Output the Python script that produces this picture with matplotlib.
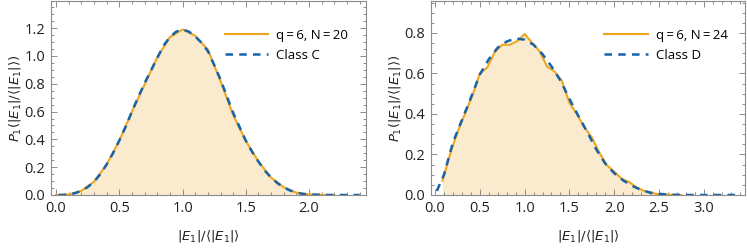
import numpy as np
import matplotlib.pyplot as plt
from matplotlib.ticker import MultipleLocator

plt.rcParams['font.family'] = ['Open Sans', 'DejaVu Sans']
plt.rcParams['mathtext.fontset'] = 'dejavusans'

# left panel: q=6, N=20 vs class C
x_c = np.arange(0, 49) * 0.05
class_c = [0.000, 0.000, 0.004, 0.013, 0.030, 0.057, 0.095, 0.150, 0.220, 0.300,
           0.392, 0.490, 0.600, 0.705, 0.805, 0.895, 0.985, 1.075, 1.135, 1.175,
           1.190, 1.175, 1.140, 1.095, 1.035, 0.935, 0.830, 0.710, 0.590, 0.490,
           0.390, 0.310, 0.240, 0.175, 0.125, 0.085, 0.055, 0.032, 0.017, 0.008,
           0.004, 0.002, 0.001, 0.000, 0.000, 0.000, 0.000, 0.000, 0.000]
x_c[0] = 0.02
x_n20 = np.arange(0, 23) * 0.1
q6_n20 = [0.0, 0.004, 0.030, 0.095, 0.220, 0.390, 0.600, 0.795, 0.990, 1.135,
          1.190, 1.145, 1.045, 0.820, 0.575, 0.390, 0.240, 0.125, 0.055, 0.017,
          0.004, 0.001, 0.0]

# right panel: q=6, N=24 vs class D
x_d = [0.02, 0.1, 0.2, 0.3, 0.4, 0.5, 0.6, 0.7, 0.8, 0.9, 1.0, 1.1, 1.2, 1.3,
       1.4, 1.5, 1.6, 1.7, 1.8, 1.9, 2.0, 2.1, 2.2, 2.3, 2.4, 2.5, 2.6, 2.7,
       2.8, 3.0, 3.2, 3.37]
class_d = [0.02, 0.10, 0.26, 0.37, 0.48, 0.595, 0.67, 0.728, 0.758, 0.773,
           0.767, 0.742, 0.695, 0.635, 0.565, 0.475, 0.39, 0.31, 0.225, 0.155,
           0.108, 0.072, 0.045, 0.025, 0.012, 0.006, 0.002, 0.0005, 0.0, 0.0,
           0.0, 0.0]
x_n24 = np.arange(1, 34) / 12
q6_n24 = [0.07, 0.20, 0.31, 0.40, 0.49, 0.60, 0.63, 0.705, 0.742, 0.742,
          0.76, 0.795, 0.752, 0.71, 0.635, 0.61, 0.563, 0.455, 0.40, 0.335,
          0.285, 0.21, 0.148, 0.115, 0.08, 0.064, 0.038, 0.02, 0.01, 0.004,
          0.002, 0.001, 0.0]

orange = '#EDA620'
blue = '#1763AA'
frame = '#8c8c8c'

fig = plt.figure(figsize=(7.47, 2.48), dpi=100)
ax1 = fig.add_axes([51/747, 1 - 195/248, 315/747, 194/248])
ax2 = fig.add_axes([431/747, 1 - 195/248, 314/747, 194/248])

panels = [
    (ax1, x_n20, q6_n20, x_c, class_c, 'q\u2009=\u20096, N\u2009=\u200920', 'Class C',
     (-0.04, 2.45), (0, 1.395)),
    (ax2, x_n24, q6_n24, x_d, class_d, 'q\u2009=\u20096, N\u2009=\u200924', 'Class D',
     (-0.045, 3.46), (0, 0.958)),
]

for ax, xs, ys, xt, yt, lab1, lab2, xl, yl in panels:
    ax.fill_between(xs, 0, ys, color=orange, alpha=0.22, lw=0)
    ax.plot(xs, ys, color=orange, lw=1.5, label=lab1)
    ax.plot(xt, yt, color=blue, lw=1.8, dashes=(3.0, 2.5), label=lab2)
    ax.set_xlim(*xl)
    ax.set_ylim(*yl)
    ax.xaxis.set_major_locator(MultipleLocator(0.5))
    ax.xaxis.set_minor_locator(MultipleLocator(0.1))
    ax.yaxis.set_major_locator(MultipleLocator(0.2))
    ax.yaxis.set_minor_locator(MultipleLocator(0.05))
    ax.xaxis.set_major_formatter(lambda v, p: f'{v:.1f}')
    ax.yaxis.set_major_formatter(lambda v, p: f'{v:.1f}')
    ax.tick_params(which='both', direction='in', top=True, right=True,
                   color=frame, width=0.7, labelsize=10.5, labelcolor='#222222')
    ax.tick_params(which='major', length=4.5, pad=4)
    ax.tick_params(which='minor', length=2.5)
    for s in ax.spines.values():
        s.set_color(frame)
        s.set_linewidth(0.8)
    ax.set_xlabel(r'$|E_1|/\langle|E_1|\rangle$', fontsize=9.5, labelpad=9,
                  color='#222222')
    ax.set_ylabel(r'$P_1(|E_1|/\langle|E_1|\rangle)$', fontsize=9.5, labelpad=1.5,
                  color='#222222')
    ax.legend(loc='upper left', bbox_to_anchor=(0.535, 0.885), frameon=False,
              fontsize=9.5, handlelength=3.3, handletextpad=0.6, labelspacing=0.55,
              borderaxespad=0)

fig.savefig('out.png', dpi=100)
